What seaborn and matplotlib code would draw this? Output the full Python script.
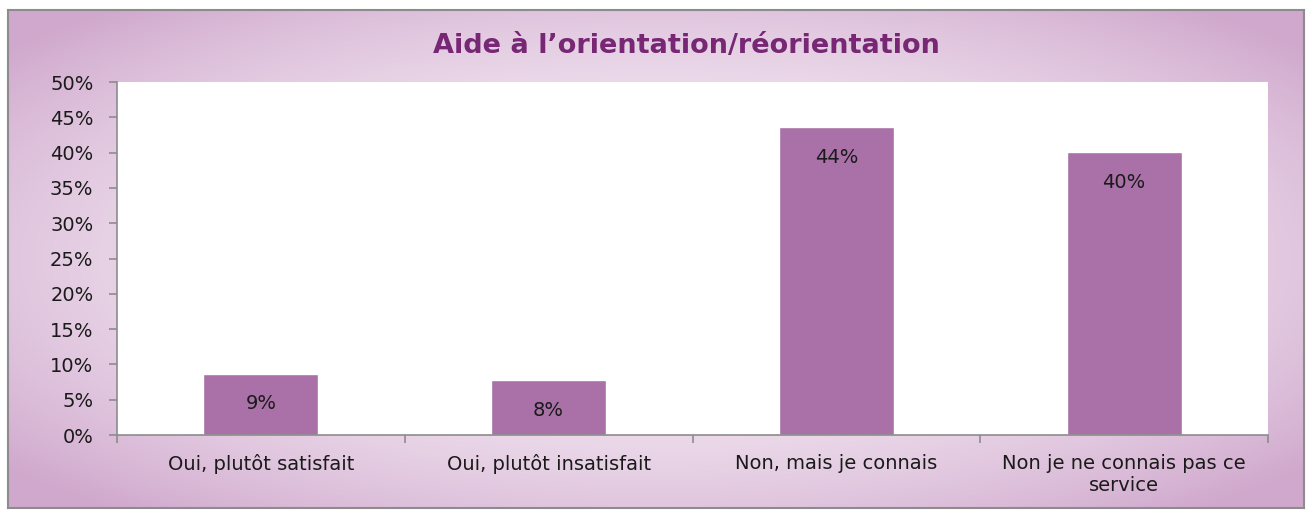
import numpy as np
import pandas as pd
import matplotlib
matplotlib.use("Agg")
import matplotlib.pyplot as plt
import seaborn as sns

categories = ["Oui, plutôt satisfait", "Oui, plutôt insatisfait", "Non, mais je connais",
              "Non je ne connais pas ce\nservice"]
values = [8.7, 7.8, 43.6, 40.1]
value_labels = ["9%", "8%", "44%", "40%"]
yticks = [0, 5, 10, 15, 20, 25, 30, 35, 40, 45, 50]
ytick_labels = [f"{t}%" for t in yticks]
title = "Aide à l’orientation/réorientation"

sns.set_theme(style="white")
plt.rcParams['font.family'] = ['DejaVu Sans']

W, H = 1312, 511
fig = plt.figure(figsize=(W / 100, H / 100), dpi=100)
fig.patch.set_facecolor("white")

# gradient background inside border
bx0, by0, bx1, by1 = 8, 10, 1304, 508
bg = fig.add_axes([bx0 / W, 1 - by1 / H, (bx1 - bx0) / W, (by1 - by0) / H])
nx, ny = 400, 160
xx, yy = np.meshgrid(np.linspace(-1, 1, nx), np.linspace(-1, 1, ny))
r = np.clip(np.sqrt((xx * 0.95) ** 2 + (yy * 0.95) ** 2) / 1.25, 0, 1)
c_center = np.array([0xf4, 0xea, 0xf3]) / 255
c_edge = np.array([0xd0, 0xa8, 0xcd]) / 255
t = r ** 2.2
img = c_center[None, None, :] * (1 - t[..., None]) + c_edge[None, None, :] * t[..., None]
bg.imshow(img, aspect="auto", extent=[0, 1, 0, 1], interpolation="bilinear")
bg.set_xlim(0, 1)
bg.set_ylim(0, 1)
bg.set_xticks([])
bg.set_yticks([])
for s in bg.spines.values():
    s.set_color("#8c8c8c")
    s.set_linewidth(1.5)

ax = fig.add_axes([117 / W, 1 - 435 / H, (1268 - 117) / W, (435 - 82) / H])
df = pd.DataFrame({"cat": categories, "val": values})
sns.barplot(data=df, x="cat", y="val", color="#a971a7", width=0.4, saturation=1, ax=ax)
ax.set_facecolor("white")
ax.set_xlim(-0.5, 3.5)
ax.set_ylim(0, 50)
ax.set_yticks(yticks)
ax.set_yticklabels(ytick_labels, fontsize=14, color="#1a1a1a")
ax.set_xlabel("")
ax.set_ylabel("")
ax.set_xticks(range(4))
ax.set_xticklabels(categories, fontsize=14, color="#1a1a1a")
ax.set_xticks([-0.5, 0.5, 1.5, 2.5, 3.5], minor=True)
ax.tick_params(axis="x", which="major", length=0, pad=14)
ax.tick_params(axis="x", which="minor", length=6, width=1.2, color="#8c8c8c", direction="out", bottom=True)
ax.tick_params(axis="y", which="major", length=6, width=1.2, color="#8c8c8c", direction="out", left=True, pad=11)
for side in ["top", "right"]:
    ax.spines[side].set_visible(False)
for side in ["left", "bottom"]:
    ax.spines[side].set_color("#8c8c8c")
    ax.spines[side].set_linewidth(1.2)

for i, (v, lab) in enumerate(zip(values, value_labels)):
    ax.annotate(lab, (i, v), xytext=(0, -15), textcoords="offset points",
                ha="center", va="top", fontsize=14, color="#1a1a1a")

fig.text(686 / W, 1 - 46 / H, title, ha="center", va="center", fontsize=19.5,
         fontweight="bold", color="#772774")

fig.savefig("out.png", dpi=100, facecolor=fig.get_facecolor())
